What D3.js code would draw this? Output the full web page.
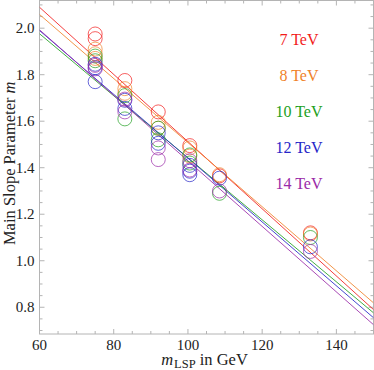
<!DOCTYPE html>
<html>
<head>
<meta charset="utf-8">
<script src="https://cdn.jsdelivr.net/npm/d3@7"></script>
<style>
  body { margin: 0; background: #fff; }
  svg { display: block; }
  text { font-family: "Liberation Serif", "DejaVu Serif", serif; }
</style>
</head>
<body>
<div id="chart"></div>
<script>
// energies and colours
const energies = ['7 TeV', '8 TeV', '10 TeV', '12 TeV', '14 TeV']
const colors = ['#f21c1c', '#f0822a', '#22a022', '#2626c8', '#9a2aa8']

// LSP masses where points sit
const masses = [75, 83, 92, 100.5, 108.5, 133]

// slope parameter values per energy, one list per mass column
const pts7 = [[1.975, 1.955], [1.775], [1.64], [1.495], [1.365], [1.12]]
const pts8 = [[1.91, 1.89, 1.87], [1.74, 1.72], [1.595, 1.57], [1.485, 1.45], [1.37], [1.115]]
const pts10 = [[1.88, 1.86], [1.71, 1.61], [1.57, 1.52], [1.455, 1.42], [1.29], [1.1]]
const pts12 = [[1.845, 1.83, 1.77], [1.69, 1.655], [1.55, 1.505], [1.41, 1.385, 1.37], [1.355], [1.06]]
const pts14 = [[1.84, 1.825], [1.695, 1.64], [1.485, 1.435], [1.43, 1.39], [1.3], [1.04]]
const allPts = [pts7, pts8, pts10, pts12, pts14]

// fitted lines: value at m=60 and at m=150
const fitAt60 = [2.09, 2.059, 1.976, 1.99, 1.993]
const fitAt150 = [0.79, 0.819, 0.776, 0.755, 0.725]

const xTicks = [60, 80, 100, 120, 140]
const yTicks = [0.8, 1.0, 1.2, 1.4, 1.6, 1.8, 2.0]

const W = 374, H = 370
const margin = { left: 39.5, right: 373.5, top: 0.5, bottom: 334 }

const svg = d3.select('#chart').append('svg')
    .attr('width', W).attr('height', H)

let x = d3.scaleLinear().domain([60, 150]).range([margin.left, margin.right])
let y = d3.scaleLinear().domain([0.685, 2.119]).range([margin.bottom, margin.top])

svg.append('clipPath').attr('id', 'clip')
    .append('rect')
    .attr('x', margin.left).attr('y', margin.top)
    .attr('width', margin.right - margin.left).attr('height', margin.bottom - margin.top)

// frame
const frameColor = '#b4b4b4'
svg.append('rect')
    .attr('x', margin.left).attr('y', margin.top)
    .attr('width', margin.right - margin.left).attr('height', margin.bottom - margin.top)
    .attr('fill', 'none').attr('stroke', frameColor).attr('stroke-width', 1)

// ticks, inward on all four sides
const xMinor = d3.range(60, 151, 5)
const yMinor = d3.range(0.70, 2.12, 0.05)
const tk = svg.append('g').attr('stroke', frameColor).attr('stroke-width', 1)
xMinor.forEach(v => {
    let len = (v % 20 === 0) ? 5 : 3
    tk.append('line').attr('x1', x(v)).attr('x2', x(v)).attr('y1', margin.bottom).attr('y2', margin.bottom - len)
    tk.append('line').attr('x1', x(v)).attr('x2', x(v)).attr('y1', margin.top).attr('y2', margin.top + len)
})
yMinor.forEach(v => {
    let isMajor = Math.abs(v * 5 - Math.round(v * 5)) < 1e-6
    let len = isMajor ? 5 : 3
    tk.append('line').attr('y1', y(v)).attr('y2', y(v)).attr('x1', margin.left).attr('x2', margin.left + len)
    tk.append('line').attr('y1', y(v)).attr('y2', y(v)).attr('x1', margin.right).attr('x2', margin.right - len)
})

// tick labels
svg.append('g').selectAll('text').data(xTicks).join('text')
    .attr('x', d => x(d)).attr('y', margin.bottom + 15.5)
    .attr('text-anchor', 'middle')
    .attr('font-size', 15).attr('fill', '#222')
    .text(d => d)

svg.append('g').selectAll('text').data(yTicks).join('text')
    .attr('x', margin.left - 5).attr('y', d => y(d) + 5)
    .attr('text-anchor', 'end')
    .attr('font-size', 15).attr('fill', '#222')
    .text(d => d.toFixed(1))

// axis labels
let xl = svg.append('text')
    .attr('x', (margin.left + margin.right) / 2 - 2).attr('y', 365)
    .attr('text-anchor', 'middle').attr('font-size', 16.5).attr('fill', '#222')
xl.append('tspan').attr('font-style', 'italic').text('m')
xl.append('tspan').attr('font-size', 12.5).attr('dy', 3).attr('dx', 1).text('LSP')
xl.append('tspan').attr('dy', -3).text(' in GeV')

let yl = svg.append('text')
    .attr('transform', 'translate(15,' + ((margin.top + margin.bottom) / 2 - 4) + ') rotate(-90)')
    .attr('text-anchor', 'middle').attr('font-size', 16.5).attr('fill', '#222')
yl.append('tspan').text('Main Slope Parameter ')
yl.append('tspan').attr('font-style', 'italic').text('m')

const plot = svg.append('g').attr('clip-path', 'url(#clip)')

// fitted lines
energies.forEach((e, i) => {
    plot.append('line')
        .attr('x1', x(60)).attr('y1', y(fitAt60[i]))
        .attr('x2', x(150)).attr('y2', y(fitAt150[i]))
        .attr('stroke', colors[i]).attr('stroke-width', 1)
        .attr('stroke-opacity', 0.85)
})

// open circles
energies.forEach((e, i) => {
    let flat = []
    allPts[i].forEach((col, j) => col.forEach(v => flat.push({ m: masses[j], v: v })))
    plot.append('g').selectAll('circle').data(flat).join('circle')
        .attr('cx', d => x(d.m)).attr('cy', d => y(d.v))
        .attr('r', 7)
        .attr('fill', 'none')
        .attr('stroke', colors[i]).attr('stroke-width', 1)
        .attr('stroke-opacity', 0.7)
})

// legend
svg.append('g').selectAll('text').data(energies).join('text')
    .attr('x', 299).attr('y', (d, i) => 45 + i * 36)
    .attr('text-anchor', 'middle')
    .attr('font-size', 16)
    .attr('fill', (d, i) => colors[i])
    .text(d => d)
</script>
</body>
</html>
